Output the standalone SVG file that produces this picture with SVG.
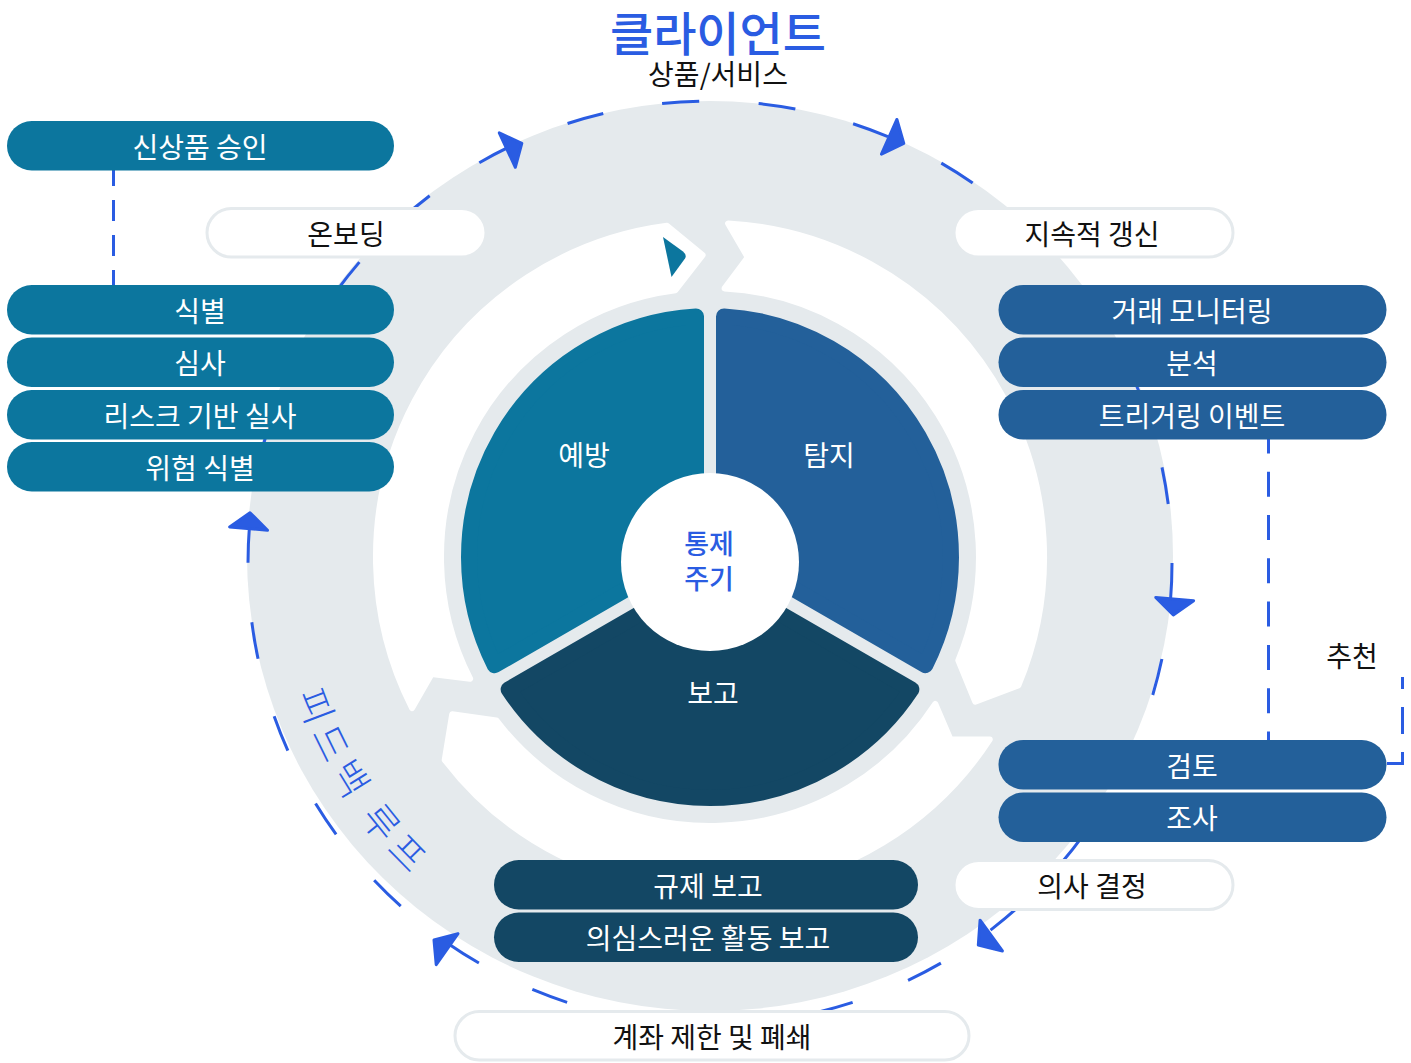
<svg xmlns="http://www.w3.org/2000/svg" xmlns:xlink="http://www.w3.org/1999/xlink" width="1411" height="1063" viewBox="0 0 1411 1063">
<defs>
<style>
text{font-family:"Noto Sans CJK KR","Noto Sans",sans-serif;text-anchor:middle;dominant-baseline:central}
.lbl{font-size:28px;fill:#ffffff}
.dk{font-size:28px;fill:#111111}
.teal{fill:#0C769E}
.blue{fill:#23609A}
.navy{fill:#134764}
.wpill{fill:#ffffff;stroke:#E5EAED;stroke-width:3}
.dash{fill:none;stroke:#2A5CE2;stroke-width:3}
.ah{fill:#2A5CE2;stroke:#2A5CE2;stroke-width:3;stroke-linejoin:round}
.band{fill:#ffffff;stroke:#ffffff;stroke-width:6;stroke-linejoin:round}
</style>
<path id="ahp" d="M0 0 L-16 -19 L-16 19 Z"/>
<path id="fbpath" d="M 296.1 618.2 A 418 418 0 0 0 533.3 938.8"/>
</defs>

<g id="ring">
<ellipse cx="710" cy="556" rx="463" ry="455" fill="#E5EAED"/>
<path class="band" d="M412.1 708.1 A334 334 0 0 1 667.0 225.8 L702.6 255.1 L675.4 290.2 A269 269 0 0 0 470.1 678.7 L431.6 674.0 Z"/>
<path class="band" d="M728.1 223.5 A334 334 0 0 1 1018.4 685.4 L975.2 701.6 L958.3 660.4 A269 269 0 0 0 724.6 288.4 L747.8 257.4 Z"/>
<path class="band" d="M989.8 739.4 A334 334 0 0 1 444.7 759.9 L452.2 714.3 L496.3 720.4 A269 269 0 0 0 935.3 703.9 L950.6 739.6 Z"/>
<path d="M663 237 L683 251.5 Q687 255 685 258.5 L671.5 277 Z" fill="#0C769E"/>
</g>

<g id="cycle">
<path class="teal" stroke="#0C769E" stroke-width="16" stroke-linejoin="round" d="M696 548.9 L494.65 665.17 A241 241 0 0 1 696 316.41 Z"/>
<path class="blue" stroke="#23609A" stroke-width="16" stroke-linejoin="round" d="M724 548.9 L724 316.41 A241 241 0 0 1 925.35 665.17 Z"/>
<path class="navy" stroke="#134764" stroke-width="16" stroke-linejoin="round" d="M710 573.2 L911.35 689.42 A241 241 0 0 1 508.65 689.42 Z"/>
<circle cx="710" cy="562" r="89" fill="#ffffff"/>
<text class="lbl" x="584" y="454">예방</text>
<text class="lbl" x="829" y="454">탐지</text>
<text class="lbl" x="713" y="692">보고</text>
<text x="709" y="542" font-size="27" font-weight="500" fill="#2A5CE2">통제</text>
<text x="709" y="577" font-size="27" font-weight="500" fill="#2A5CE2">주기</text>
</g>

<g id="connectors">
<circle class="dash" cx="710" cy="563" r="462" stroke-dasharray="37.1 59.66"/>
<use href="#ahp" class="ah" transform="translate(521.8 143.3) rotate(335)"/>
<use href="#ahp" class="ah" transform="translate(903.8 143.3) rotate(24)"/>
<use href="#ahp" class="ah" transform="translate(1173.3 615) rotate(95)"/>
<use href="#ahp" class="ah" transform="translate(978.3 945) rotate(144)"/>
<use href="#ahp" class="ah" transform="translate(434 940) rotate(215)"/>
<use href="#ahp" class="ah" transform="translate(250 512.7) rotate(275)"/>
<line class="dash" x1="113.5" y1="165" x2="113.5" y2="292" stroke-dasharray="21 14"/>
<line class="dash" x1="1268.5" y1="428.4" x2="1268.5" y2="745" stroke-dasharray="25 18.3"/>
<path class="dash" d="M1387 763.5 H1402.5 V677" stroke-dasharray="27 18"/>
</g>

<g id="title">
<text x="718" y="30" font-size="47" font-weight="500" fill="#2A5CE2">클라이언트</text>
<text x="718" y="73" font-size="28" fill="#111111">상품/서비스</text>
</g>

<g id="feedback">
<text font-size="38" fill="#2A5CE2" font-weight="300" letter-spacing="5"><textPath href="#fbpath" startOffset="43%">피드백 루프</textPath></text>
</g>

<g id="node-new-product"><rect class="teal" x="7" y="121" width="387" height="49.5" rx="24.75"/><text class="lbl" x="200" y="146">신상품 승인</text></g>
<g id="node-onboarding"><rect class="wpill" x="207" y="208.5" width="279" height="48.5" rx="24.25"/><text class="dk" x="346" y="233">온보딩</text></g>
<g id="node-identify"><rect class="teal" x="7" y="285" width="387" height="49.5" rx="24.75"/><text class="lbl" x="200" y="310">식별</text></g>
<g id="node-review"><rect class="teal" x="7" y="337.5" width="387" height="49.5" rx="24.75"/><text class="lbl" x="200" y="362">심사</text></g>
<g id="node-rba"><rect class="teal" x="7" y="390" width="387" height="49.5" rx="24.75"/><text class="lbl" x="200" y="414.5">리스크 기반 실사</text></g>
<g id="node-risk"><rect class="teal" x="7" y="442" width="387" height="49.5" rx="24.75"/><text class="lbl" x="200" y="466.5">위험 식별</text></g>

<g id="node-update"><rect class="wpill" x="954" y="208.5" width="279" height="48.5" rx="24.25"/><text class="dk" x="1092" y="233">지속적 갱신</text></g>
<g id="node-monitoring"><rect class="blue" x="998.5" y="285" width="388" height="49.5" rx="24.75"/><text class="lbl" x="1192" y="310">거래 모니터링</text></g>
<g id="node-analysis"><rect class="blue" x="998.5" y="337.5" width="388" height="49.5" rx="24.75"/><text class="lbl" x="1192" y="362">분석</text></g>
<g id="node-trigger"><rect class="blue" x="998.5" y="390" width="388" height="49.5" rx="24.75"/><text class="lbl" x="1192" y="414.5">트리거링 이벤트</text></g>
<g id="node-recommend"><text class="dk" x="1352" y="655">추천</text></g>
<g id="node-check"><rect class="blue" x="998.5" y="740" width="388" height="49.5" rx="24.75"/><text class="lbl" x="1192" y="765">검토</text></g>
<g id="node-investigate"><rect class="blue" x="998.5" y="792.5" width="388" height="49.5" rx="24.75"/><text class="lbl" x="1192" y="817">조사</text></g>
<g id="node-decision"><rect class="wpill" x="954" y="860.5" width="279" height="49" rx="24.5"/><text class="dk" x="1092" y="885">의사 결정</text></g>

<g id="node-reg-report"><rect class="navy" x="494" y="860" width="424" height="49.5" rx="24.75"/><text class="lbl" x="708" y="885">규제 보고</text></g>
<g id="node-sar"><rect class="navy" x="494" y="912.5" width="424" height="49.5" rx="24.75"/><text class="lbl" x="708" y="937">의심스러운 활동 보고</text></g>
<g id="node-close"><rect class="wpill" x="455" y="1011.5" width="514" height="48.5" rx="24.25"/><text class="dk" x="712" y="1036">계좌 제한 및 폐쇄</text></g>
</svg>
